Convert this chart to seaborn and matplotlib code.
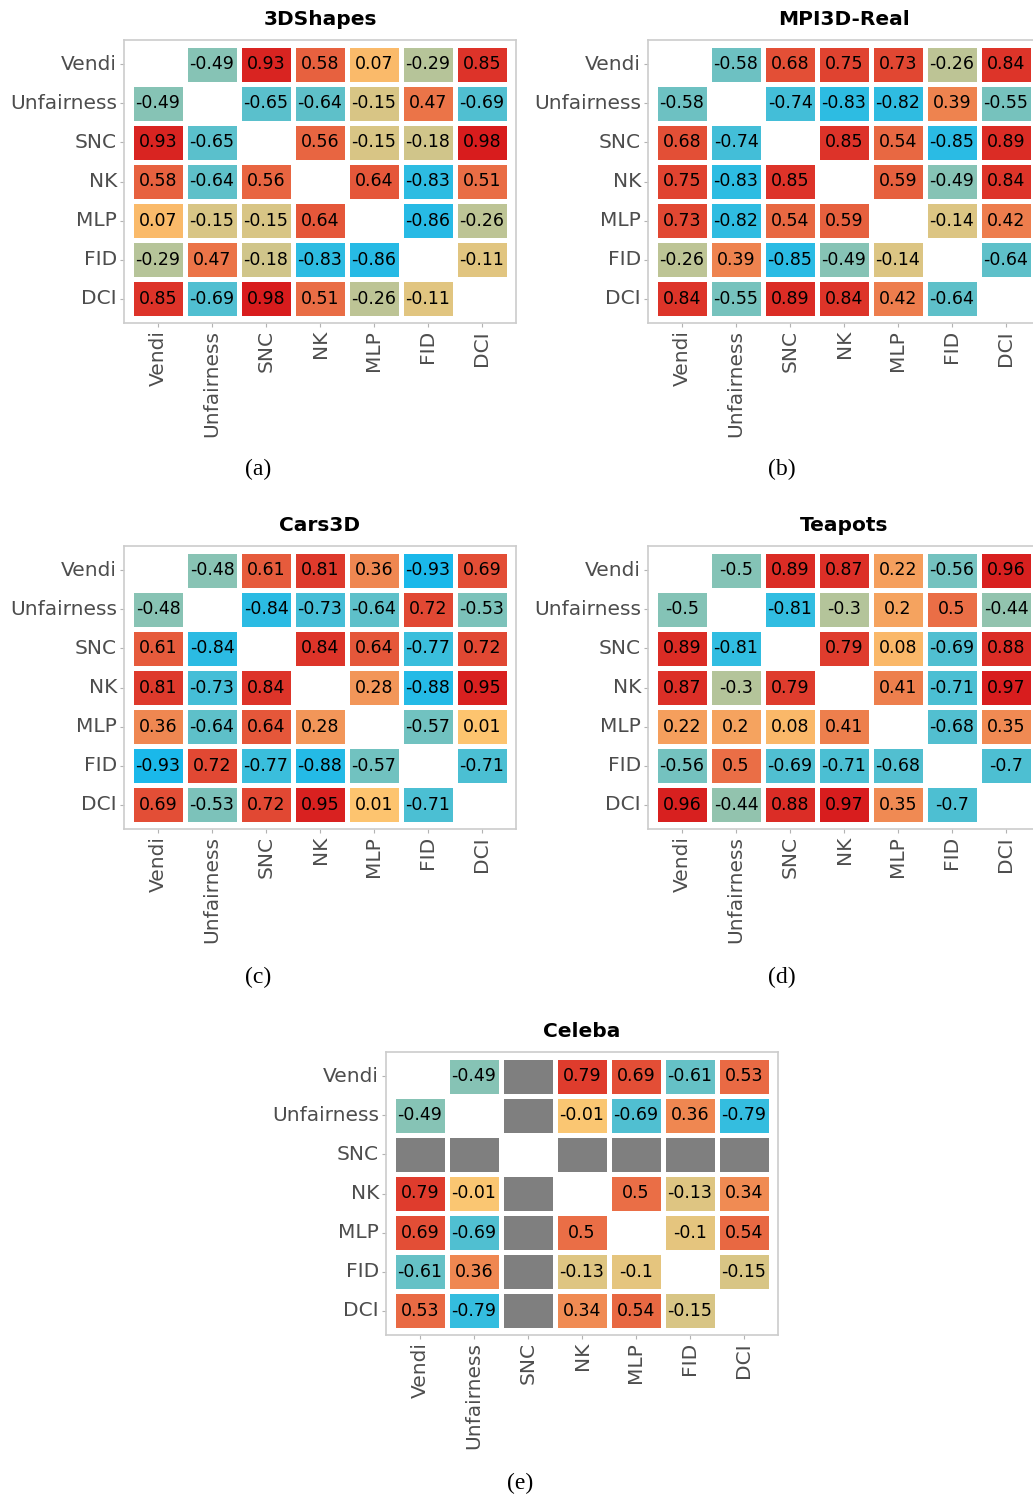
import numpy as np
import pandas as pd
import matplotlib
matplotlib.use("Agg")
import matplotlib.pyplot as plt
import seaborn as sns
from matplotlib.colors import LinearSegmentedColormap, ListedColormap

metrics = ["Vendi", "Unfairness", "SNC", "NK", "MLP", "FID", "DCI"]
N = np.nan

shapes3d = [
    [N, -0.49, 0.93, 0.58, 0.07, -0.29, 0.85],
    [-0.49, N, -0.65, -0.64, -0.15, 0.47, -0.69],
    [0.93, -0.65, N, 0.56, -0.15, -0.18, 0.98],
    [0.58, -0.64, 0.56, N, 0.64, -0.83, 0.51],
    [0.07, -0.15, -0.15, 0.64, N, -0.86, -0.26],
    [-0.29, 0.47, -0.18, -0.83, -0.86, N, -0.11],
    [0.85, -0.69, 0.98, 0.51, -0.26, -0.11, N],
]
mpi3d_real = [
    [N, -0.58, 0.68, 0.75, 0.73, -0.26, 0.84],
    [-0.58, N, -0.74, -0.83, -0.82, 0.39, -0.55],
    [0.68, -0.74, N, 0.85, 0.54, -0.85, 0.89],
    [0.75, -0.83, 0.85, N, 0.59, -0.49, 0.84],
    [0.73, -0.82, 0.54, 0.59, N, -0.14, 0.42],
    [-0.26, 0.39, -0.85, -0.49, -0.14, N, -0.64],
    [0.84, -0.55, 0.89, 0.84, 0.42, -0.64, N],
]
cars3d = [
    [N, -0.48, 0.61, 0.81, 0.36, -0.93, 0.69],
    [-0.48, N, -0.84, -0.73, -0.64, 0.72, -0.53],
    [0.61, -0.84, N, 0.84, 0.64, -0.77, 0.72],
    [0.81, -0.73, 0.84, N, 0.28, -0.88, 0.95],
    [0.36, -0.64, 0.64, 0.28, N, -0.57, 0.01],
    [-0.93, 0.72, -0.77, -0.88, -0.57, N, -0.71],
    [0.69, -0.53, 0.72, 0.95, 0.01, -0.71, N],
]
teapots = [
    [N, -0.5, 0.89, 0.87, 0.22, -0.56, 0.96],
    [-0.5, N, -0.81, -0.3, 0.2, 0.5, -0.44],
    [0.89, -0.81, N, 0.79, 0.08, -0.69, 0.88],
    [0.87, -0.3, 0.79, N, 0.41, -0.71, 0.97],
    [0.22, 0.2, 0.08, 0.41, N, -0.68, 0.35],
    [-0.56, 0.5, -0.69, -0.71, -0.68, N, -0.7],
    [0.96, -0.44, 0.88, 0.97, 0.35, -0.7, N],
]
celeba = [
    [N, -0.49, N, 0.79, 0.69, -0.61, 0.53],
    [-0.49, N, N, -0.01, -0.69, 0.36, -0.79],
    [N, N, N, N, N, N, N],
    [0.79, -0.01, N, N, 0.5, -0.13, 0.34],
    [0.69, -0.69, N, 0.5, N, -0.1, 0.54],
    [-0.61, 0.36, N, -0.13, -0.1, N, -0.15],
    [0.53, -0.79, N, 0.34, 0.54, -0.15, N],
]

titles = ["3DShapes", "MPI3D-Real", "Cars3D", "Teapots", "Celeba"]
captions = ["(a)", "(b)", "(c)", "(d)", "(e)"]
datasets = [shapes3d, mpi3d_real, cars3d, teapots, celeba]

W, H = 1033, 1496
fig = plt.figure(figsize=(W / 100, H / 100), dpi=100)

cmap = LinearSegmentedColormap.from_list(
    "corr",
    [(0.0, "#0fb5ee"), (0.1, "#33bde0"), (0.25, "#84c3b6"),
     (0.5, "#fdc670"), (1.0, "#d7191c")],
)
gray_cmap = ListedColormap(["#7f7f7f"])

# frame positions in pixels: left, top
frames = [(124, 40), (648, 40), (124, 546), (648, 546), (386, 1052)]
fw, fh = 392, 283
caption_pos = [(258, 469), (782, 469), (258, 977), (782, 977), (520, 1483)]

for data, title, cap, (fx, fy), (cx, cy) in zip(datasets, titles, captions, frames, caption_pos):
    ax = fig.add_axes([fx / W, 1 - (fy + fh) / H, fw / W, fh / H])
    df = pd.DataFrame(data, index=metrics, columns=metrics)
    n = len(metrics)
    diag = np.eye(n, dtype=bool)
    isnan = df.isna().values
    missing = isnan & ~diag
    if missing.any():
        gray = pd.DataFrame(np.zeros((n, n)), index=metrics, columns=metrics)
        sns.heatmap(gray, mask=~missing, cmap=gray_cmap, cbar=False,
                    linewidths=2.5, linecolor="white", ax=ax)
    labels = np.array([["" if np.isnan(v) else f"{round(v, 2):g}" for v in row]
                       for row in df.values])
    sns.heatmap(df, mask=diag, cmap=cmap, vmin=-1, vmax=1, cbar=False,
                annot=labels, fmt="", annot_kws={"size": 12.5, "color": "black"},
                linewidths=2.5, linecolor="white", ax=ax)
    ax.set_xlim(-0.13, n + 0.13)
    ax.set_ylim(n + 0.12, -0.12)
    for s in ax.spines.values():
        s.set_visible(True)
        s.set_color("#cccccc")
        s.set_linewidth(1.2)
    ax.tick_params(axis="both", length=3, width=0.8, color="#b3b3b3",
                   labelsize=14.5, labelcolor="#4d4d4d", pad=2)
    ax.set_xticklabels(metrics, rotation=90)
    ax.set_yticklabels(metrics, rotation=0)
    ax.set_xlabel("")
    ax.set_ylabel("")
    ax.set_title(title, fontsize=14.5, fontweight="bold", pad=11)
    fig.text(cx / W, 1 - cy / H, cap, ha="center", va="center",
             fontsize=17, family="Liberation Serif")

fig.savefig("out.png", dpi=100, facecolor="white")
